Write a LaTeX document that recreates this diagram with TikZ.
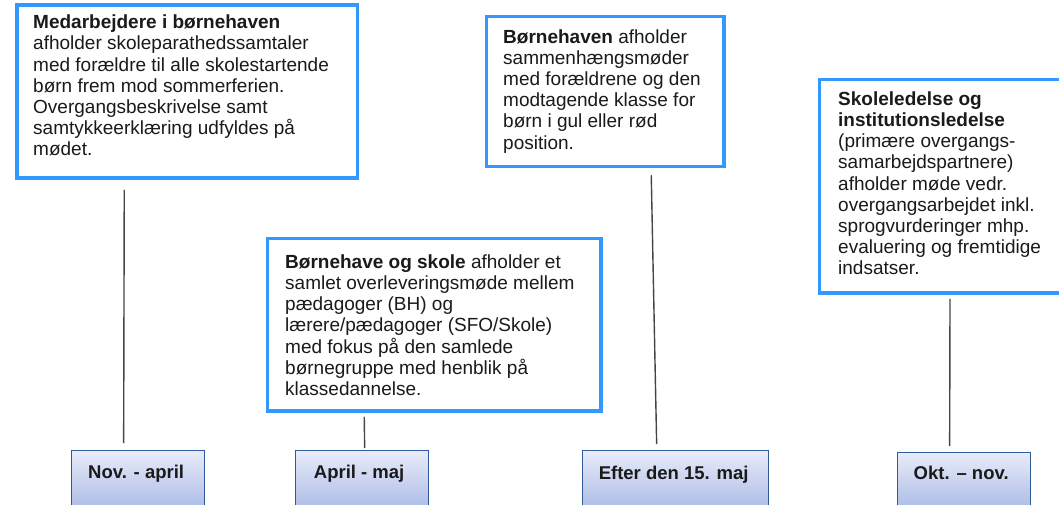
\documentclass[tikz,border=0pt]{standalone}
\usepackage{fontspec}
\setmainfont{Liberation Sans}
\usetikzlibrary{calc}
\definecolor{bluebd}{HTML}{3399FF}
\definecolor{darkbd}{HTML}{2E5E99}
\definecolor{gtop}{RGB}{232,236,249}
\definecolor{gbot}{RGB}{165,182,228}
\definecolor{connc}{HTML}{454545}
\definecolor{txtc}{HTML}{1A1A1A}
\begin{document}
\begin{tikzpicture}[x=1pt,y=-1pt,
  bluebox/.style={draw=bluebd, line width=3.5pt, fill=white, rectangle, inner sep=0pt, anchor=north west},
  txt/.style={anchor=north west, inner sep=0pt, align=left, text=txtc, font=\fontsize{19}{21.2}\selectfont},
  datebox/.style={draw=darkbd, line width=1.3pt, rectangle, inner sep=0pt, anchor=north west, top color=gtop, bottom color=gbot},
  datelbl/.style={anchor=base, inner sep=0pt, text=txtc, font=\fontsize{18.5}{21}\selectfont\bfseries},
  connector/.style={draw=connc, line width=1.4pt}]
\useasboundingbox (0,0) rectangle (1059,505);
\clip (0,0) rectangle (1059,505);

% top boxes
\node[bluebox, minimum width=340.5pt, minimum height=173pt] (t1) at (15.25,3.25) {};
\node[bluebox, minimum width=237.5pt, minimum height=150pt] (t2) at (484.75,14.75) {};
\node[bluebox, minimum width=250pt, minimum height=213.5pt] (t3) at (817.75,77.75) {};
\node[bluebox, minimum width=333.5pt, minimum height=172.5pt] (t4) at (265.75,236.75) {};

% texts
\node[txt] (x1) at (33,13.5) {\rule{0pt}{15pt}\textbf{Medarbejdere i børnehaven}\\
afholder skoleparathedssamtaler\\
med forældre til alle skolestartende\\
børn frem mod sommerferien.\\
Overgangsbeskrivelse samt\\
samtykkeerklæring udfyldes på\\
mødet.};
\node[txt] (x2) at (503,28) {\rule{0pt}{15pt}\textbf{Børnehaven} afholder\\
sammenhængsmøder\\
med forældrene og den\\
modtagende klasse for\\
børn i gul eller rød\\
position.};
\node[txt] (x3) at (838,90) {\rule{0pt}{15pt}\textbf{Skoleledelse og}\\
\textbf{institutionsledelse}\\
(primære overgangs-\\
samarbejdspartnere)\\
afholder møde vedr.\\
overgangsarbejdet inkl.\\
sprogvurderinger mhp.\\
evaluering og fremtidige\\
indsatser.};
\node[txt] (x4) at (285,253) {\rule{0pt}{15pt}\textbf{Børnehave og skole} afholder et\\
samlet overleveringsmøde mellem\\
pædagoger (BH) og\\
lærere/pædagoger (SFO/Skole)\\
med fokus på den samlede\\
børnegruppe med henblik på\\
klassedannelse.};

% date boxes
\node[datebox, minimum width=133pt, minimum height=65pt] (d1) at (71,450) {};
\node[datebox, minimum width=133pt, minimum height=65pt] (d2) at (295,450) {};
\node[datebox, minimum width=186pt, minimum height=65pt] (d3) at (582,450) {};
\node[datebox, minimum width=133pt, minimum height=63pt] (d4) at (897,452) {};

\node[datelbl] (l1) at ($(d1.north)+(-2,28)$) {Nov. - april};
\node[datelbl] (l2) at ($(d2.north)+(-3,28)$) {April - maj};
\node[datelbl] (l3) at ($(d3.north)+(-2,29)$) {Efter den 15. maj};
\node[datelbl] (l4) at ($(d4.north)+(-3,27)$) {Okt. – nov.};

% connectors
\draw[connector] ($(t1.south)+(-63,10)$) -- ($(d1.north)+(-14.5,-7)$);
\draw[connector] ($(t4.south)+(-70,4)$) -- ($(d2.north)+(2.5,-2)$);
\draw[connector] ($(t2.south)+(46,7)$) -- ($(d3.north)+(-19,-6)$);
\draw[connector] ($(t3.south)+(5.5,4)$) -- ($(d4.north)+(-14.5,-6)$);
\end{tikzpicture}
\end{document}
